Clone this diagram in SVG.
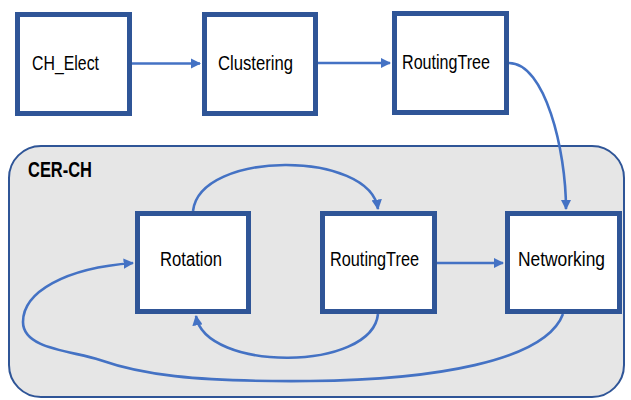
<svg xmlns="http://www.w3.org/2000/svg" width="631" height="400" viewBox="0 0 631 400">
<style>
.box{fill:#fff;stroke:#2F5597;stroke-width:5}
.lbl{font-family:"Liberation Sans",Arial,sans-serif;font-size:20.5px;fill:#000;text-anchor:start}
.edge{fill:none;stroke:#4472C4;stroke-width:2.6}
</style>
<defs>
<marker id="ah" viewBox="0 0 10 10" refX="9" refY="5" markerWidth="4" markerHeight="4" orient="auto" markerUnits="strokeWidth">
<path d="M0,0 L10,5 L0,10 z" fill="#4472C4"/>
</marker>
</defs>
<g id="container">
<rect x="9" y="146" width="615" height="251" rx="32" ry="32" fill="#E6E6E6" stroke="#2F5597" stroke-width="2"/>
<text x="28" y="177" style="font-family:'Liberation Sans',Arial,sans-serif;font-size:22px;font-weight:bold" textLength="64" lengthAdjust="spacingAndGlyphs">CER-CH</text>
</g>
<g id="connectors">
<path class="edge" d="M132,63.5 L200,63.5" marker-end="url(#ah)"/>
<path class="edge" d="M318,63 L390,63" marker-end="url(#ah)"/>
<path class="edge" d="M509,63 C545,63 566,150 566,209" marker-end="url(#ah)"/>
<path class="edge" d="M193,211 C200,150 370,150 378,209" marker-end="url(#ah)"/>
<path class="edge" d="M437,263 L503,263" marker-end="url(#ah)"/>
<path class="edge" d="M378,314 C372,372 205,372 196,316" marker-end="url(#ah)"/>
<path class="edge" d="M563,314 C545,362 430,380 310,381 S140,374 100,360 C75,351 23,350 23,322 C23,292 65,268 133,263" marker-end="url(#ah)"/>
</g>
<g id="ch_elect">
<rect class="box" x="17.5" y="14.5" width="112" height="99"/>
<text class="lbl" x="32" y="69.5" textLength="67" lengthAdjust="spacingAndGlyphs">CH_Elect</text>
</g>
<g id="clustering">
<rect class="box" x="204.5" y="14.5" width="111" height="99"/>
<text class="lbl" x="218" y="69.5" textLength="75" lengthAdjust="spacingAndGlyphs">Clustering</text>
</g>
<g id="routingtree_top">
<rect class="box" x="394.5" y="13.5" width="112" height="99"/>
<text class="lbl" x="402" y="69" textLength="88" lengthAdjust="spacingAndGlyphs">RoutingTree</text>
</g>
<g id="rotation">
<rect class="box" x="137.5" y="213.5" width="111" height="98"/>
<text class="lbl" x="160" y="266" textLength="62" lengthAdjust="spacingAndGlyphs">Rotation</text>
</g>
<g id="routingtree">
<rect class="box" x="322.5" y="213.5" width="112" height="98"/>
<text class="lbl" x="330" y="266" textLength="89" lengthAdjust="spacingAndGlyphs">RoutingTree</text>
</g>
<g id="networking">
<rect class="box" x="507.5" y="213.5" width="112" height="98"/>
<text class="lbl" x="518" y="266" textLength="87" lengthAdjust="spacingAndGlyphs">Networking</text>
</g>
</svg>
